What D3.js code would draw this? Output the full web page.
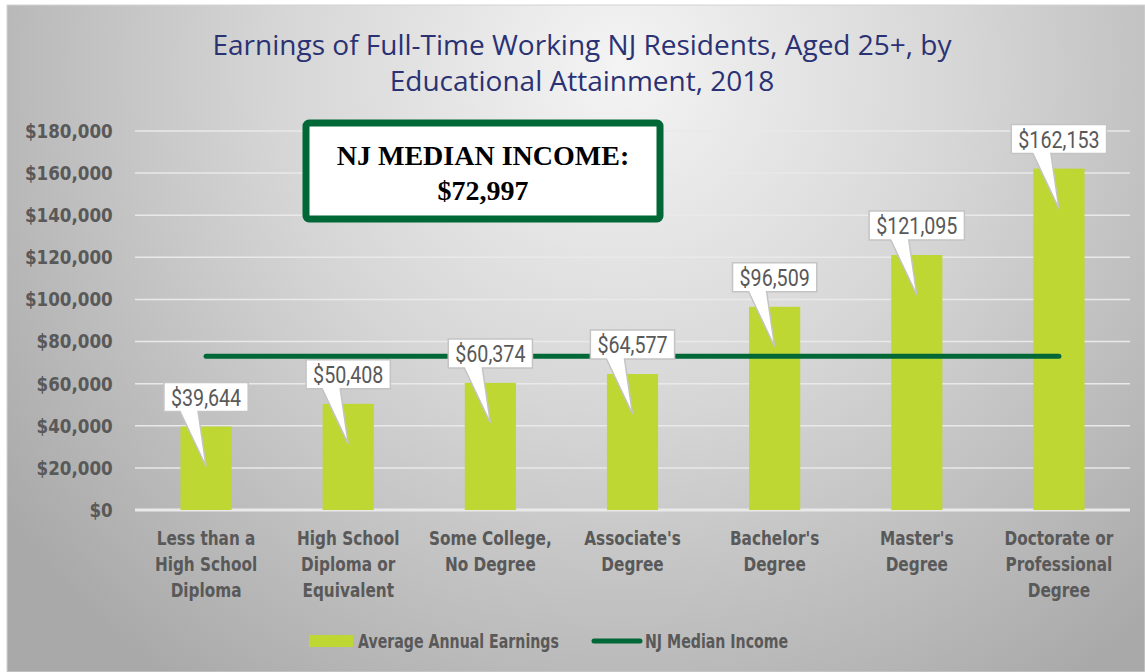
<!DOCTYPE html>
<html>
<head>
<meta charset="utf-8">
<script src="https://cdn.jsdelivr.net/npm/d3@7"></script>
<style>
  body { margin: 0; background: #fff; }
  svg { display: block; }
</style>
</head>
<body>
<svg width="1145" height="672"></svg>
<script>
var categories = [
    ["Less than a", "High School", "Diploma"],
    ["High School", "Diploma or", "Equivalent"],
    ["Some College,", "No Degree"],
    ["Associate's", "Degree"],
    ["Bachelor's", "Degree"],
    ["Master's", "Degree"],
    ["Doctorate or", "Professional", "Degree"]
];
var earnings = [39644, 50408, 60374, 64577, 96509, 121095, 162153];
var medianIncome = 72997;
var yTicks = [0, 20000, 40000, 60000, 80000, 100000, 120000, 140000, 160000, 180000];

var svg = d3.select("svg"),
    width = +svg.attr("width"),
    height = +svg.attr("height");

var condensed = "'DejaVu Sans Condensed', 'DejaVu Sans', sans-serif";
var grey = "#595959";
var money = d => "$" + d3.format(",")(d);

// background gradient
var defs = svg.append("defs");
var grad = defs.append("radialGradient")
    .attr("id", "bg")
    .attr("gradientUnits", "userSpaceOnUse")
    .attr("cx", 620).attr("cy", 70).attr("r", 760);
grad.append("stop").attr("offset", 0).attr("stop-color", "#f4f4f4");
grad.append("stop").attr("offset", 0.45).attr("stop-color", "#d6d6d6");
grad.append("stop").attr("offset", 1).attr("stop-color", "#a9a9a9");

svg.append("rect")
    .attr("x", 7).attr("y", 5)
    .attr("width", width - 7).attr("height", height - 5)
    .attr("fill", "url(#bg)")
    .attr("stroke", "#d4d4d4");

var ids = d3.range(categories.length);
var x = d3.scaleBand(ids, [135, 1130]).paddingInner(0.64).paddingOuter(0.32);
var y = d3.scaleLinear([0, 180000], [510, 131]);

// title
svg.append("g")
    .attr("text-anchor", "middle")
    .attr("fill", "#2b3274")
    .attr("font-family", "'Open Sans', sans-serif")
    .attr("font-size", 28)
    .selectAll("text")
    .data(["Earnings of Full-Time Working NJ Residents, Aged 25+, by", "Educational Attainment, 2018"])
    .join("text")
    .attr("x", 582)
    .attr("y", (d, i) => i ? 91 : 55)
    .text(d => d);

// gridlines
svg.append("g")
    .selectAll("line")
    .data(yTicks)
    .join("line")
    .attr("x1", 135).attr("x2", 1130)
    .attr("y1", d => y(d)).attr("y2", d => y(d))
    .attr("stroke", "#e9e9e9")
    .attr("stroke-width", d => d === 0 ? 3 : 1.5);

// y axis
svg.append("g")
    .attr("transform", "translate(135,0)")
    .call(d3.axisLeft(y).tickValues(yTicks).tickSize(0).tickPadding(24)
        .tickFormat(money))
    .call(g => g.select(".domain").remove())
    .selectAll("text")
    .attr("fill", grey)
    .attr("font-family", condensed)
    .attr("font-weight", "bold")
    .attr("font-size", 20)
    .attr("transform", "scale(0.93,1)");

// bars
svg.append("g")
    .selectAll("rect")
    .data(earnings)
    .join("rect")
    .attr("x", (d, i) => x(i))
    .attr("y", d => y(d))
    .attr("width", x.bandwidth())
    .attr("height", d => y(0) - y(d))
    .attr("fill", "#bed732");

// median line
svg.append("line")
    .attr("x1", x(0) + x.bandwidth() / 2)
    .attr("x2", x(ids.length - 1) + x.bandwidth() / 2)
    .attr("y1", y(medianIncome)).attr("y2", y(medianIncome))
    .attr("stroke", "#006837")
    .attr("stroke-width", 5)
    .attr("stroke-linecap", "round");

// x labels
svg.append("g")
    .selectAll("text")
    .data(categories)
    .join("text")
    .attr("text-anchor", "middle")
    .attr("fill", grey)
    .attr("font-family", condensed)
    .attr("font-weight", "bold")
    .attr("font-size", 20)
    .attr("transform", (d, i) => "translate(" + (x(i) + x.bandwidth() / 2) + ",545) scale(0.85,1)")
    .each(function(d) {
        d3.select(this).selectAll("tspan")
            .data(d)
            .join("tspan")
            .attr("x", 0)
            .attr("y", (t, j) => j * 26)
            .text(t => t);
    });

// callouts
var sx = 0.82;
svg.append("g")
    .selectAll("g")
    .data(earnings)
    .join("g")
    .each(function(d, i) {
        var g = d3.select(this);
        var cx = x(i) + x.bandwidth() / 2;
        var top = y(d);
        var txt = g.append("text")
            .attr("transform", "translate(" + cx + "," + (top - 21) + ") scale(" + sx + ",1)")
            .attr("text-anchor", "middle")
            .attr("fill", grey)
            .attr("font-family", "Roboto, sans-serif")
            .attr("font-size", 24)
            .text(money(d));
        var w = txt.node().getComputedTextLength() * sx + 14;
        var l = cx - w / 2, r = cx + w / 2, t = top - 44, b = top - 15;
        g.insert("path", "text")
            .attr("d", "M" + l + "," + t + "H" + r + "V" + b + "H" + (cx - 8) +
                "L" + cx + "," + (top + 40) + "L" + (cx - 26) + "," + b + "H" + l + "Z")
            .attr("fill", "#fff")
            .attr("stroke", "#c4c4c4")
            .attr("stroke-width", 1.5);
    });

// median income box
svg.append("rect")
    .attr("x", 306).attr("y", 123)
    .attr("width", 354).attr("height", 96)
    .attr("rx", 3)
    .attr("fill", "#fff")
    .attr("stroke", "#006837")
    .attr("stroke-width", 7);

svg.append("text")
    .attr("text-anchor", "middle")
    .attr("font-family", "'Liberation Serif', 'Times New Roman', serif")
    .attr("font-weight", "bold")
    .attr("font-size", 28)
    .attr("fill", "#000")
    .selectAll("tspan")
    .data(["NJ MEDIAN INCOME:", money(medianIncome)])
    .join("tspan")
    .attr("x", 483)
    .attr("y", (d, i) => i ? 200 : 165)
    .text(d => d);

// legend
var legend = svg.append("g")
    .attr("fill", grey)
    .attr("font-family", condensed)
    .attr("font-weight", "bold")
    .attr("font-size", 19);

legend.append("rect")
    .attr("x", 309).attr("y", 635)
    .attr("width", 44).attr("height", 12)
    .attr("fill", "#bed732");
legend.append("text")
    .attr("transform", "translate(358,648) scale(0.83,1)")
    .text("Average Annual Earnings");
legend.append("line")
    .attr("x1", 594).attr("x2", 640)
    .attr("y1", 641).attr("y2", 641)
    .attr("stroke", "#006837")
    .attr("stroke-width", 5)
    .attr("stroke-linecap", "round");
legend.append("text")
    .attr("transform", "translate(645,648) scale(0.83,1)")
    .text("NJ Median Income");
</script>
</body>
</html>
